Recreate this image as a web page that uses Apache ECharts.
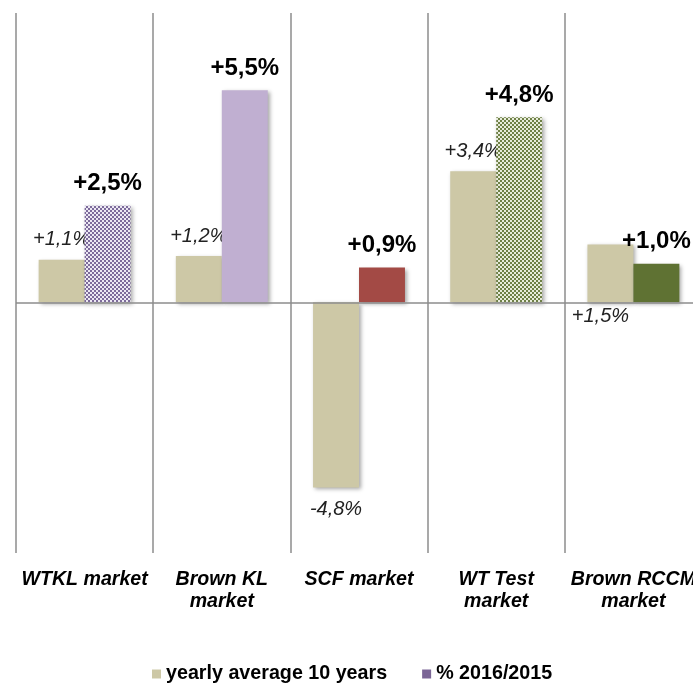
<!DOCTYPE html>
<html>
<head>
<meta charset="utf-8">
<script src="https://cdn.jsdelivr.net/npm/echarts@6/dist/echarts.min.js"></script>
<style>
  html, body { margin: 0; padding: 0; background: #fff; overflow: hidden; }
  /* the source chart runs past the right edge, so the canvas is a bit wider than the window */
  #chart { width: 712px; height: 684px; }
</style>
</head>
<body>
<div id="chart"></div>
<script>
// data
var categories = ['WTKL market', 'Brown KL\nmarket', 'SCF market', 'WT Test\nmarket', 'Brown RCCM\nmarket']
var yearlyAvg = [1.1, 1.2, -4.8, 3.4, 1.5]
var change2016 = [2.5, 5.5, 0.9, 4.8, 1.0]
var seriesNames = ['yearly average 10 years', '% 2016/2015']

// small checker pattern like the office fill
function checker(dark, light) {
  var c = document.createElement('canvas')
  c.width = 4
  c.height = 4
  var ctx = c.getContext('2d')
  ctx.fillStyle = light
  ctx.fillRect(0, 0, 4, 4)
  ctx.fillStyle = dark
  ctx.fillRect(0, 0, 2, 2)
  ctx.fillRect(2, 2, 2, 2)
  return { image: c, repeat: 'repeat' }
}

var beige = '#cdc8a6'
var secondColors = [
  checker('#7d6b9b', '#ece8f3'),
  '#c0afd1',
  '#a34a45',
  checker('#6e8046', '#e8ecdb'),
  '#5f7233'
]

function fmt(v) {
  return (v > 0 ? '+' : '') + v.toFixed(1).replace('.', ',') + '%'
}

var shadow = {
  shadowColor: 'rgba(0,0,0,0.35)',
  shadowBlur: 4,
  shadowOffsetX: 2,
  shadowOffsetY: 2
}

var chart = echarts.init(document.getElementById('chart'))
chart.setOption({
  animation: false,
  textStyle: { fontFamily: 'Liberation Sans, Arial, sans-serif' },
  grid: {
    left: 16,
    top: 13,
    width: 686,
    height: 540
  },
  legend: {
    left: 147,
    top: 659,
    itemWidth: 9,
    itemHeight: 9,
    itemGap: 35,
    icon: 'rect',
    textStyle: { fontSize: 19.7, fontWeight: 'bold', color: '#000' },
    data: seriesNames
  },
  xAxis: {
    type: 'category',
    data: categories,
    axisLine: { show: false },
    axisTick: { show: false },
    splitLine: {
      show: true,
      interval: 0,
      lineStyle: { color: '#8c8c8c', width: 1.5 }
    },
    axisLabel: {
      interval: 0,
      margin: 16,
      fontSize: 19.6,
      fontWeight: 'bold',
      fontStyle: 'italic',
      lineHeight: 22,
      color: '#000'
    }
  },
  yAxis: {
    type: 'value',
    min: -6.5,
    max: 7.5,
    show: false,
    splitLine: { show: false }
  },
  series: [
    {
      name: seriesNames[0],
      type: 'bar',
      barGap: 0,
      barCategoryGap: '33%',
      itemStyle: Object.assign({ color: beige }, shadow),
      label: {
        show: true,
        position: 'top',
        distance: 10,
        fontSize: 20,
        fontStyle: 'italic',
        color: '#222',
        formatter: function (p) { return fmt(p.value) }
      },
      data: yearlyAvg.map(function (v, i) {
        if (v < 0) return { value: v, label: { position: 'bottom', distance: 12 } }
        if (i === 4) return { value: v, label: { position: 'insideBottom', offset: [-10, 34] } }
        return v
      }),
      markLine: {
        silent: true,
        symbol: 'none',
        label: { show: false },
        lineStyle: { color: '#8c8c8c', width: 1.5, type: 'solid' },
        data: [{ yAxis: 0 }]
      },
      z: 2
    },
    {
      name: seriesNames[1],
      type: 'bar',
      itemStyle: Object.assign({ color: '#7b6596' }, shadow),
      label: {
        show: true,
        position: 'top',
        distance: 10,
        fontSize: 24,
        fontWeight: 'bold',
        color: '#000',
        formatter: function (p) { return fmt(p.value) }
      },
      data: change2016.map(function (v, i) {
        return { value: v, itemStyle: { color: secondColors[i] } }
      }),
      z: 3
    }
  ]
})
</script>
</body>
</html>
